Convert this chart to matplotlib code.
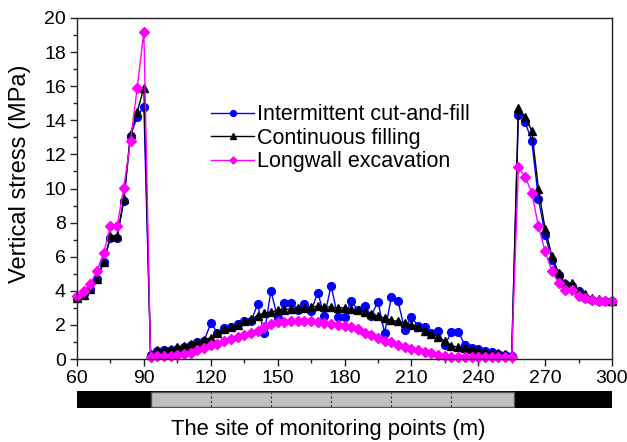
import numpy as np
import matplotlib
matplotlib.use("Agg")
import matplotlib.pyplot as plt
from matplotlib.patches import Rectangle
from matplotlib.ticker import MultipleLocator

plt.rcParams['font.family'] = ['Liberation Sans', 'DejaVu Sans']

# Monitoring point positions (m)
x_left = [60, 63, 66, 69, 72, 75, 78, 81, 84, 87, 90]
x_mid = list(range(93, 256, 3))
x_right = [258, 261, 264, 267, 270, 273, 276, 279, 282, 285, 288, 291, 294, 297, 300]

# Intermittent cut-and-fill (MPa)
icf_left = [3.6, 3.8, 4.1, 4.7, 5.7, 7.1, 7.1, 9.26, 13.1, 14.2, 14.8]
icf_mid = [0.25, 0.45, 0.5, 0.55, 0.6, 0.7, 0.85, 1.0, 1.05, 2.1,
           1.55, 1.8, 1.85, 2.05, 2.25, 2.2, 3.2, 1.5, 4.0, 2.4,
           3.3, 3.3, 2.9, 3.2, 2.8, 3.9, 2.5, 4.3, 2.45, 2.45,
           3.4, 2.85, 3.1, 2.55, 3.35, 1.52, 3.63, 3.4, 1.72, 2.45,
           1.95, 1.87, 1.52, 1.62, 0.8, 1.6, 1.6, 0.83, 0.63, 0.6,
           0.45, 0.4, 0.3, 0.25, 0.2]
icf_right = [14.3, 13.9, 12.8, 9.4, 7.3, 5.8, 4.93, 4.38, 4.3, 3.98, 3.6, 3.45, 3.4, 3.4, 3.4]

# Continuous filling (MPa)
cf_left = [3.55, 3.76, 4.12, 4.72, 5.7, 7.2, 7.2, 9.38, 13.2, 14.5, 15.9]
cf_mid = [0.3, 0.5, 0.55, 0.6, 0.68, 0.78, 0.88, 1.0, 1.12, 1.25,
          1.55, 1.75, 1.85, 2.0, 2.2, 2.35, 2.55, 2.7, 2.75, 2.85,
          2.9, 2.95, 3.0, 3.0, 3.05, 3.1, 3.05, 3.05, 3.0, 3.0,
          2.92, 2.85, 2.78, 2.63, 2.52, 2.4, 2.28, 2.2, 2.12, 1.98,
          1.87, 1.67, 1.48, 1.3, 1.05, 0.77, 0.7, 0.63, 0.57, 0.5,
          0.43, 0.37, 0.33, 0.3, 0.25]
cf_right = [14.7, 14.2, 13.4, 9.96, 7.63, 6.05, 5.07, 4.44, 4.44, 3.98, 3.79, 3.6, 3.5, 3.45, 3.4]

# Longwall excavation (MPa)
lw_left = [3.7, 3.98, 4.42, 5.17, 6.23, 7.8, 7.8, 10.04, 12.8, 15.9, 19.2]
lw_mid = [0.1, 0.15, 0.18, 0.2, 0.24, 0.3, 0.38, 0.5, 0.63, 0.8,
          0.9, 1.05, 1.2, 1.3, 1.4, 1.52, 1.65, 1.85, 2.05, 2.15,
          2.17, 2.2, 2.2, 2.2, 2.2, 2.15, 2.12, 2.08, 2.02, 1.95,
          1.88, 1.75, 1.55, 1.4, 1.25, 1.08, 0.97, 0.83, 0.73, 0.6,
          0.5, 0.42, 0.33, 0.25, 0.18, 0.12, 0.1, 0.1, 0.1, 0.1,
          0.1, 0.1, 0.1, 0.1, 0.1]
lw_right = [11.24, 10.7, 9.76, 7.79, 6.31, 5.17, 4.48, 4.02, 4.02, 3.69, 3.55, 3.45, 3.4, 3.4, 3.4]

labels = ["Intermittent cut-and-fill", "Continuous filling", "Longwall excavation"]

# Mining panel strip below the axis
strip_extent = [60, 300]
panel_extent = [93, 256]
panel_dividers = [120, 147, 174, 201, 228]

x_all = x_left + x_mid + x_right
series = [
    (icf_left + icf_mid + icf_right, '#0000FF', 'o', 5.6),
    (cf_left + cf_mid + cf_right, '#000000', '^', 6.2),
    (lw_left + lw_mid + lw_right, '#FF00FF', 'D', 4.8),
]

fig = plt.figure(figsize=(6.27, 4.42), dpi=100)
ax = fig.add_axes([77 / 627, 1 - 359 / 442, 535 / 627, 341 / 442])

for (vals, col, mk, ms), lab in zip(series, labels):
    ax.plot(x_all, vals, color=col, lw=1.0, marker=mk, ms=ms,
            mfc=col, mec=col, label=lab, clip_on=False)

ax.set_xlim(60, 300)
ax.set_ylim(0, 20)
ax.xaxis.set_major_locator(MultipleLocator(30))
ax.xaxis.set_minor_locator(MultipleLocator(15))
ax.yaxis.set_major_locator(MultipleLocator(2))
ax.yaxis.set_minor_locator(MultipleLocator(1))
ax.tick_params(which='both', direction='out', top=False, right=False,
               labelsize=14, width=1.0, colors='#222222', labelcolor='black')
ax.tick_params(which='major', length=5, pad=3)
ax.tick_params(which='minor', length=3)
for sp in ax.spines.values():
    sp.set_linewidth(1.0)
    sp.set_color('#222222')

ax.legend(loc='upper left', bbox_to_anchor=(196 / 627, 1 - 89 / 442),
          bbox_transform=fig.transFigure, frameon=False, fontsize=15.5,
          handlelength=2.0, handletextpad=0.15, labelspacing=0.12,
          borderpad=0.2, numpoints=1, markerscale=0.75)

fig.text(20 / 627, 1 - 174 / 442, "Vertical stress (MPa)", rotation=90,
         ha='center', va='center', fontsize=17)
fig.text(328 / 627, 1 - 430 / 442, "The site of monitoring points (m)",
         ha='center', va='center', fontsize=15.8)

# Strip showing solid coal and the mined panel
bax = fig.add_axes([77 / 627, 1 - 408 / 442, 535 / 627, 17 / 442])
bax.set_xlim(*strip_extent)
bax.set_ylim(0, 1)
bax.axis('off')
bax.add_patch(Rectangle((strip_extent[0], 0), strip_extent[1] - strip_extent[0], 1,
                        facecolor='black', edgecolor='black'))
bax.add_patch(Rectangle((panel_extent[0], 0.04), panel_extent[1] - panel_extent[0], 0.92,
                        facecolor='#c0c0c0', edgecolor='#555555', lw=1.0))
for d in panel_dividers:
    bax.plot([d, d], [0.08, 0.92], color='#333333', lw=0.8, ls=(0, (2, 2)))

fig.savefig("out.png", dpi=100)
